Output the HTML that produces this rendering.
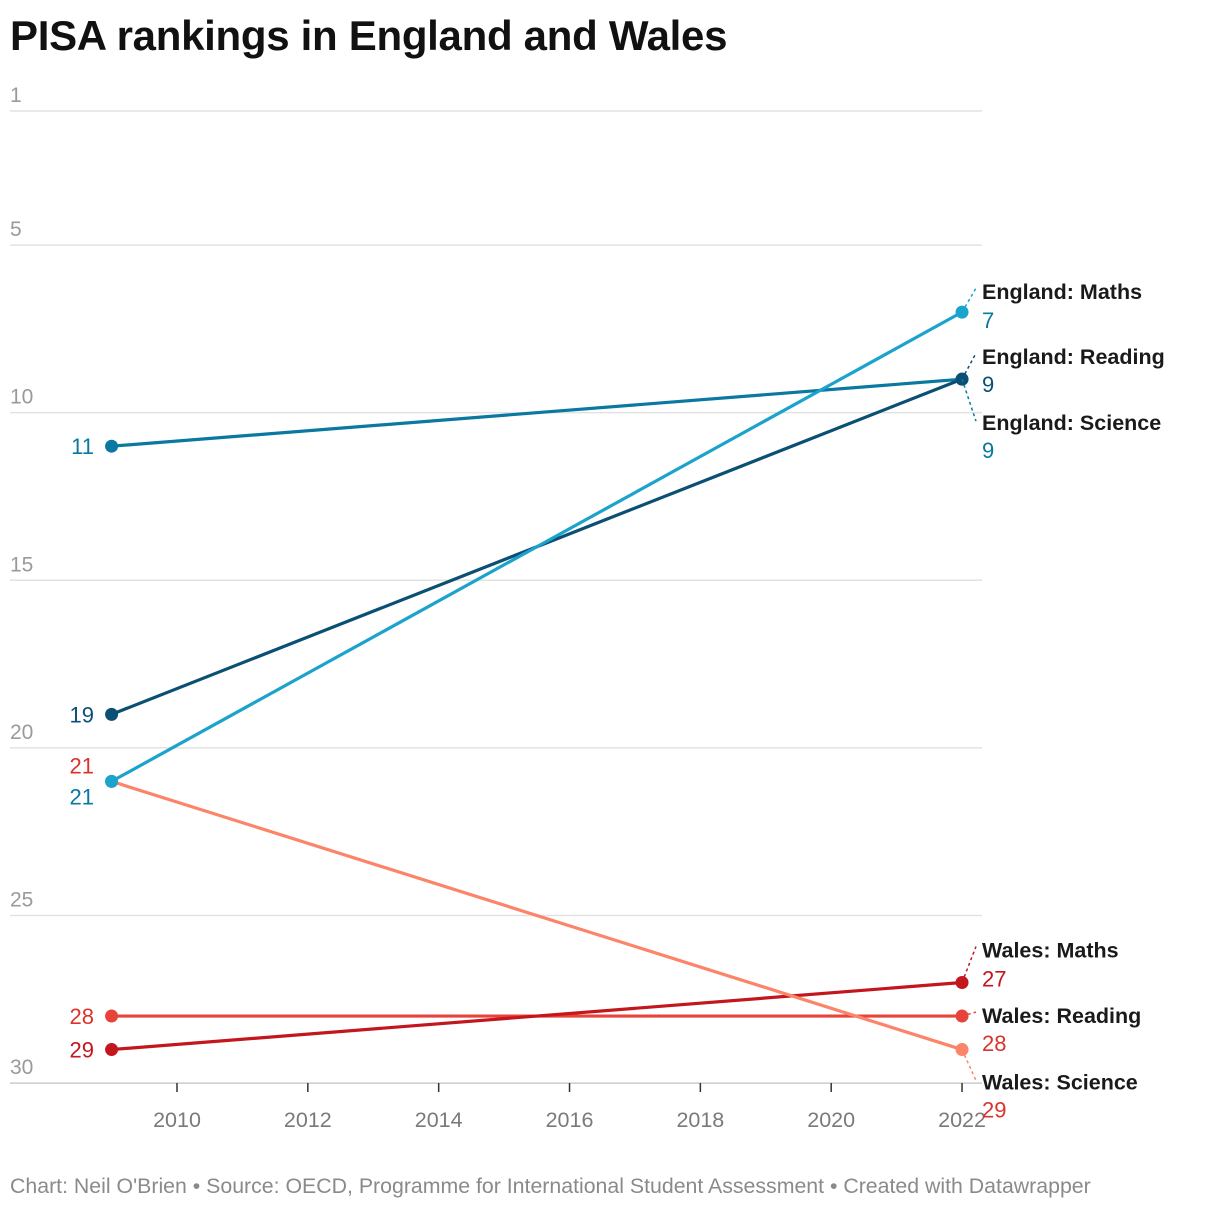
<!DOCTYPE html>
<html><head><meta charset="utf-8"><style>
body{margin:0;background:#fff;width:1220px;height:1210px;overflow:hidden;font-family:"Liberation Sans",Arial,sans-serif}
h1{position:absolute;left:10px;top:12px;margin:0;font-size:42px;font-weight:bold;color:#111;letter-spacing:-0.3px}
.foot{position:absolute;left:10px;top:1174px;font-size:21.3px;color:#8a8a8a}
svg{position:absolute;left:0;top:0}
</style></head><body>
<h1>PISA rankings in England and Wales</h1>
<svg id="chart" width="1220" height="1210"></svg>
<div class="foot">Chart: Neil O'Brien • Source: OECD, Programme for International Student Assessment • Created with Datawrapper</div>
<script>
const years=[2010,2012,2014,2016,2018,2020,2022];
const yTicks=[1,5,10,15,20,25,30];
const seriesNames=["England: Maths","England: Reading","England: Science","Wales: Maths","Wales: Reading","Wales: Science"];
const rank2009=[21,19,11,29,28,21];
const rank2022=[7,9,9,27,28,29];
const colors=["#1ba3cc","#0b4f74","#0a78a0","#c3161d","#e8433a","#fb8469"];
const valColors=["#0a78a0","#0b4f74","#0a78a0","#c3161d","#d9342c","#d9342c"];
const labelDy=[[-20,8],[-22,5],[44,71],[-32,-4],[0,27],[33,60]];
const leftColors=["#0a78a0","#0b4f74","#0a78a0","#c3161d","#d9342c","#d9342c"];
const extraLeft=[[21,"#d9342c",-16]];
const NS="http://www.w3.org/2000/svg";
const svg=document.getElementById('chart');
const X=y=>177+(y-2010)*65.42;
const Y=r=>111+(r-1)*33.52;
function mk(t,a,p){const e=document.createElementNS(NS,t);for(const k in a)e.setAttribute(k,a[k]);(p||svg).appendChild(e);return e;}
yTicks.forEach(t=>{
 const l=mk('line',{x1:10,x2:982,y1:Y(t),y2:Y(t),stroke:t===30?'#ccc':'#e2e2e2','stroke-width':1.5});
 
 
 const tx=mk('text',{x:10,y:Y(t)-9,'font-size':21,fill:'#9a9a9a'});tx.textContent=t;
 
 
});
years.forEach(y=>{
 const l=mk('line',{x1:X(y),x2:X(y),y1:1083,y2:1092,stroke:'#333','stroke-width':1.5});
 
 
 const tx=mk('text',{x:X(y),y:1127,'font-size':21.5,fill:'#7a7a7a','text-anchor':'middle'});tx.textContent=y;
 
 
});
const order=[4,3,5,2,1,0];
order.forEach(i=>{
 const x1=X(2009),x2=X(2022),y1=Y(rank2009[i]),y2=Y(rank2022[i]);
 const ln=mk('line',{x1,y1,x2,y2,stroke:colors[i],'stroke-width':3.2});
 
 
 [[x1,y1],[x2,y2]].forEach(([cx,cy])=>{
  const c=mk('circle',{cx,cy,r:6.5,fill:colors[i]});
  
  
 });
});
seriesNames.forEach((n,i)=>{
 const x2=X(2022),y2=Y(rank2022[i]);
 const ly=y2+labelDy[i][0];
 const d=mk('line',{x1:x2,y1:y2,x2:976,y2:labelDy[i][0]>0?ly-2:ly-4,stroke:colors[i],'stroke-width':1.5,'stroke-dasharray':'3,3'});
 
 
 const t=mk('text',{x:982,y:ly+7,'font-size':21.5,'font-weight':'bold',fill:'#1a1a1a'});t.textContent=n;
 
 
 const v=mk('text',{x:982,y:y2+labelDy[i][1]+8,'font-size':22,fill:valColors[i]});v.textContent=rank2022[i];
 
 
});
[[0,15],[1,0],[2,0],[3,0],[4,0]].forEach(([i,dy])=>{
 const v=mk('text',{x:94,y:Y(rank2009[i])+dy+8,'font-size':22,fill:leftColors[i],'text-anchor':'end'});v.textContent=rank2009[i];
 
 
});
extraLeft.forEach(([r,c,dy])=>{
 const v=mk('text',{x:94,y:Y(r)+dy+8,'font-size':22,fill:c,'text-anchor':'end'});v.textContent=r;
 
 
});
</script>
</body></html>
